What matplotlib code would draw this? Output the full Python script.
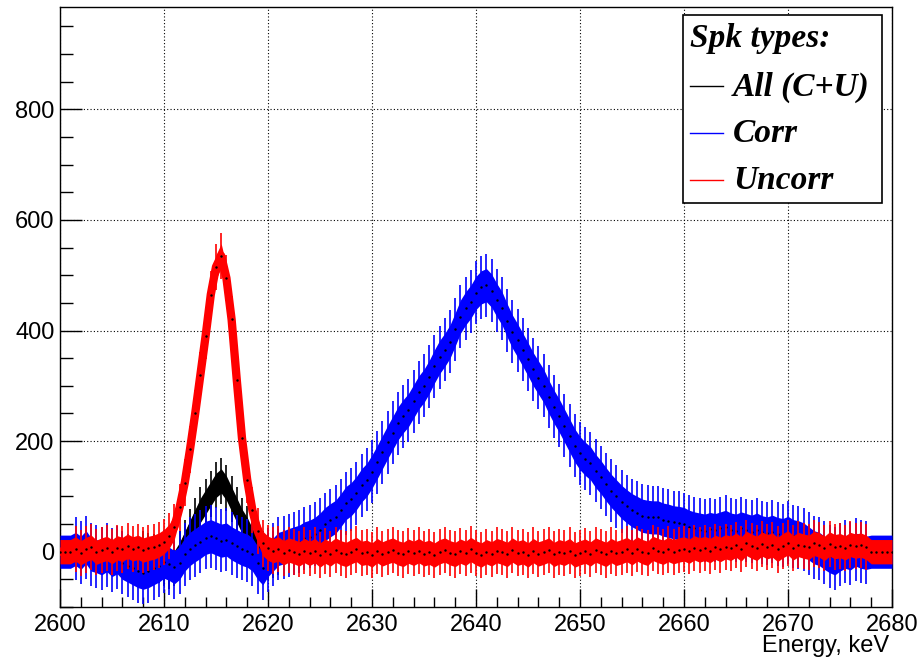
import numpy as np
import matplotlib
matplotlib.use("Agg")
import matplotlib.pyplot as plt
from matplotlib.lines import Line2D
from matplotlib.patches import Rectangle
from matplotlib.ticker import MultipleLocator

# energy grid, 0.5 keV steps
energy = np.arange(2600.0, 2680.01, 0.5)

# Corr (blue)
corr = [
    0, 0, 0, 5, -2, 8, -5, -8, -12, -6,
    -15, -10, -20, -25, -30, -35, -38, -35, -30, -25,
    -18, -22, -28, -20, -5, 5, 12, 18, 25, 28,
    24, 20, 22, 15, 10, 5, 2, -5, -20, -30,
    -15, -5, 5, 8, 12, 15, 18, 24, 27, 32,
    40, 50, 57, 63, 75, 88, 95, 106, 120, 130,
    145, 162, 180, 198, 215, 232, 245, 256, 272, 288,
    300, 316, 335, 352, 365, 380, 402, 425, 440, 452,
    468, 478, 482, 472, 455, 440, 418, 398, 382, 365,
    348, 330, 315, 300, 280, 262, 246, 228, 210, 192,
    178, 168, 160, 146, 135, 122, 110, 100, 90, 82,
    75, 70, 65, 63, 62, 62, 58, 56, 53, 52,
    50, 45, 42, 40, 38, 41, 39, 42, 45, 40,
    38, 42, 39, 36, 40, 35, 33, 36, 32, 30,
    34, 28, 26, 22, 15, 8, 5, -2, -8, -12,
    -5, 0, -3, 4, 0, -2, 0, 0, 0, 0,
    0,
]

# Uncorr (red)
uncorr = [
    0, 0, 0, 5, -2, 4, 8, -1, 3, 6,
    0, 7, 4, 10, 5, 8, 3, 6, 8, 12,
    18, 28, 45, 80, 125, 185, 250, 320, 390, 465,
    515, 535, 495, 420, 310, 205, 130, 75, 38, 15,
    6, 2, 5, -2, 3, 0, -4, 2, -3, 2,
    -6, 1, -4, 3, -2, -5, 0, 4, -3, -1,
    -6, 2, -4, 0, 3, -2, -5, 1, -3, 2,
    -4, -1, -6, 0, 3, -2, -5, 1, -3, 4,
    -2, -6, 0, -4, 2, -1, -5, 3, -3, 0,
    -6, 2, -4, -1, 3, -5, 0, -3, 2, -6,
    -2, 1, -4, 3, -1, -5, 2, -3, 0, 4,
    -2, 5, 0, -3, 6, 2, -1, 4, 0, 3,
    5, 1, 7, 3, 6, 2, 8, 4, 9, 6,
    12, 5, 15, 10, 6, 14, 9, 12, 4, 11,
    16, 7, 13, 10, 8, 15, 12, 6, 14, 9,
    11, 7, 13, 10, 12, 8, 0, 0, 0, 0,
    0,
]

# All (C+U), black - only visible around the 2615 peak
all_energy = np.arange(2608.0, 2621.01, 0.5)
all_cu = [
    -5, -8, -10, -15, -20, -25, -20, -5, 15, 35,
    55, 75, 90, 105, 120, 128, 115, 95, 75, 55,
    40, 20, 5, -5, -10, -5, 0,
]

err_corr = 30
err_uncorr = 22
err_all = 22

plt.rcParams['font.family'] = ['Liberation Sans', 'DejaVu Sans']

fig = plt.figure(figsize=(9.2, 6.6), dpi=100)
ax = fig.add_axes([60/920, 1-607/660, 832/920, 600/660])


def draw_hist(x, y, err, color, z):
    x = np.asarray(x)
    y = np.asarray(y, dtype=float)
    ax.fill_between(x, y-err, y+err, color=color, lw=0, zorder=z)
    ax.plot(x, y, color=color, lw=6, solid_joinstyle='round', zorder=z)
    inner = (x > 2601) & (x < 2678)
    ax.vlines(x[inner], y[inner]-1.9*err, y[inner]+1.9*err, color=color, lw=1.2, zorder=z)
    ax.plot(x, y, ls='none', marker='.', ms=1.5, color='black', zorder=z+0.5)


draw_hist(all_energy, all_cu, err_all, 'black', 2)
draw_hist(energy, corr, err_corr, '#0000ff', 3)
draw_hist(energy, uncorr, err_uncorr, '#ff0000', 4)

ax.set_xlim(2600, 2680)
ax.set_ylim(-100, 985)
ax.xaxis.set_major_locator(MultipleLocator(10))
ax.xaxis.set_minor_locator(MultipleLocator(2))
ax.yaxis.set_major_locator(MultipleLocator(200))
ax.yaxis.set_minor_locator(MultipleLocator(50))
ax.tick_params(axis='x', which='major', direction='in', length=13, width=1, labelsize=17, pad=5)
ax.tick_params(axis='x', which='minor', direction='in', length=7, width=1)
ax.tick_params(axis='y', which='major', direction='in', length=16, width=1, labelsize=17, pad=4)
ax.tick_params(axis='y', which='minor', direction='in', length=9, width=1)
ax.grid(True, which='major', color='black', ls=(0, (1, 2)), lw=0.8)
ax.set_axisbelow(True)
for s in ax.spines.values():
    s.set_linewidth(1)

fig.text(889/920, 1-652/660, 'Energy, keV', ha='right', va='baseline', fontsize=17)

# legend box drawn by hand (ROOT style)
leg_font = dict(family='Liberation Serif', weight='bold', style='italic', fontsize=24)
ax.add_patch(Rectangle(((683-60)/832, (607-203)/600), (882-683)/832, (203-15)/600,
                       transform=ax.transAxes, facecolor='white', edgecolor='black', lw=1.2, zorder=10))
fig.text(690/920, 1-38/660, 'Spk types:', va='center', ha='left', zorder=11, **leg_font)
entries = [('All (C+U)', 'black', 86), ('Corr', '#0000ff', 133), ('Uncorr', '#ff0000', 180)]
for label, col, ypx in entries:
    fig.add_artist(Line2D([690/920, 723/920], [1-ypx/660, 1-ypx/660], color=col, lw=1, zorder=11))
    fig.text(733/920, 1-(ypx+1)/660, label, va='center', ha='left', zorder=11, **leg_font)

fig.savefig('out.png', dpi=100)
